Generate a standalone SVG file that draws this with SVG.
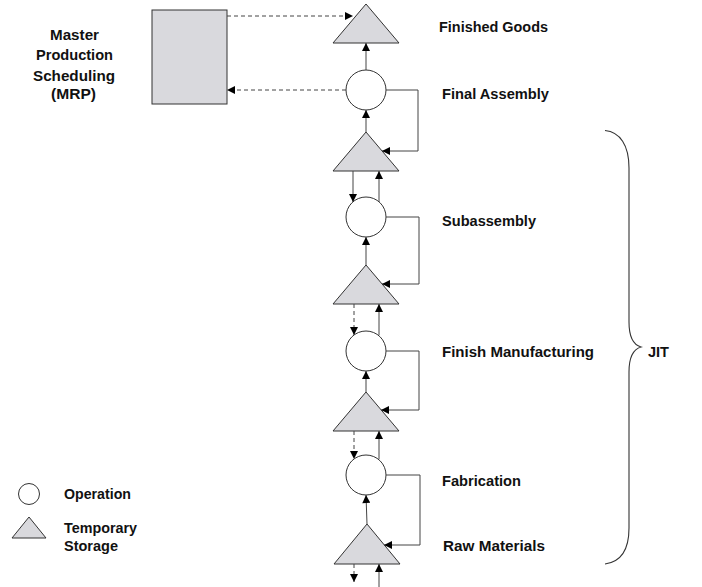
<svg xmlns="http://www.w3.org/2000/svg" width="702" height="587" viewBox="0 0 702 587">
  <style>
    .lbl { font-family: "Liberation Sans Narrow", "Liberation Sans", Arial, sans-serif; font-weight: bold; font-size: 15.5px; fill: #111; }
    .store { fill: #d9d9dd; stroke: #333; stroke-width: 1; }
    .op { fill: #fff; stroke: #333; stroke-width: 1; }
    .box { fill: #d9d9dd; stroke: #333; stroke-width: 1; }
    .flow { fill: none; stroke: #444; stroke-width: 1; }
    .dash { fill: none; stroke: #444; stroke-width: 1; stroke-dasharray: 4 3; }
    .brace { fill: none; stroke: #333; stroke-width: 1.1; }
  </style>
  <defs>
    <marker id="arrow" viewBox="0 0 10 10" refX="10" refY="5" markerWidth="9" markerHeight="8" markerUnits="userSpaceOnUse" orient="auto">
      <path d="M0,0 L10,5 L0,10 z" fill="#000"/>
    </marker>
  </defs>

  <rect width="702" height="587" fill="#fff"/>

  <!-- planning box -->
  <g id="mrp">
    <rect class="box" x="152" y="10" width="75" height="94"/>
    <text class="lbl" x="50" y="39.5" textLength="49" lengthAdjust="spacingAndGlyphs">Master</text>
    <text class="lbl" x="36" y="60" textLength="77" lengthAdjust="spacingAndGlyphs">Production</text>
    <text class="lbl" x="33" y="80.5" textLength="82" lengthAdjust="spacingAndGlyphs">Scheduling</text>
    <text class="lbl" x="51" y="99" textLength="45" lengthAdjust="spacingAndGlyphs">(MRP)</text>
  </g>

  <!-- storage and operation stages -->
  <g id="finished-goods">
    <polygon class="store" points="366,4 399,43 333,43"/>
    <text class="lbl" x="439" y="31.5" textLength="109" lengthAdjust="spacingAndGlyphs">Finished Goods</text>
  </g>
  <g id="final-assembly">
    <circle class="op" cx="366" cy="90" r="20"/>
    <text class="lbl" x="442" y="99" textLength="107" lengthAdjust="spacingAndGlyphs">Final Assembly</text>
  </g>
  <g id="storage-2">
    <polygon class="store" points="366,132 399,171 333,171"/>
  </g>
  <g id="subassembly">
    <circle class="op" cx="366" cy="217" r="20"/>
    <text class="lbl" x="442" y="226" textLength="94" lengthAdjust="spacingAndGlyphs">Subassembly</text>
  </g>
  <g id="storage-3">
    <polygon class="store" points="366,265 399,304 333,304"/>
  </g>
  <g id="finish-manufacturing">
    <circle class="op" cx="366" cy="351" r="20"/>
    <text class="lbl" x="442" y="356.5" textLength="152" lengthAdjust="spacingAndGlyphs">Finish Manufacturing</text>
  </g>
  <g id="storage-4">
    <polygon class="store" points="366,392 399,431 333,431"/>
  </g>
  <g id="fabrication">
    <circle class="op" cx="366" cy="475" r="20"/>
    <text class="lbl" x="442" y="486" textLength="79" lengthAdjust="spacingAndGlyphs">Fabrication</text>
  </g>
  <g id="raw-materials">
    <polygon class="store" points="367,524 400,564 334,564"/>
    <text class="lbl" x="443" y="550.5" textLength="102" lengthAdjust="spacingAndGlyphs">Raw Materials</text>
  </g>

  <!-- JIT bracket -->
  <g id="jit">
    <path class="brace" d="M605,130.5 C620,132 629,145 629,168 L629,322 C629,338 634,345 641,347 C634,349 629,356 629,372 L629,528 C629,551 620,562 605,564"/>
    <text class="lbl" x="648" y="357" textLength="21" lengthAdjust="spacingAndGlyphs">JIT</text>
  </g>

  <!-- legend -->
  <g id="legend">
    <circle class="op" cx="29" cy="494" r="10.5"/>
    <text class="lbl" x="64" y="498.5" textLength="67" lengthAdjust="spacingAndGlyphs">Operation</text>
    <polygon class="store" points="29,517 46,538 12,538"/>
    <text class="lbl" x="64" y="533" textLength="73" lengthAdjust="spacingAndGlyphs">Temporary</text>
    <text class="lbl" x="64" y="551" textLength="54" lengthAdjust="spacingAndGlyphs">Storage</text>
  </g>

  <!-- connectors -->
  <g id="connectors">
    <!-- schedule links -->
    <path class="dash" d="M227,16 L353,16" marker-end="url(#arrow)"/>
    <path class="dash" d="M346,90 L227,90" marker-end="url(#arrow)"/>

    <!-- final assembly -->
    <path class="flow" d="M366,70 L366,43" marker-end="url(#arrow)"/>
    <path class="flow" d="M366,132 L366,110" marker-end="url(#arrow)"/>
    <path class="flow" d="M386,90 L418,90 L418,151 L382,151" marker-end="url(#arrow)"/>

    <!-- subassembly -->
    <path class="flow" d="M353,171 L353,202" marker-end="url(#arrow)"/>
    <path class="flow" d="M379,202 L379,171" marker-end="url(#arrow)"/>
    <path class="flow" d="M366,265 L366,237" marker-end="url(#arrow)"/>
    <path class="flow" d="M386,217 L419,217 L419,284 L382,284" marker-end="url(#arrow)"/>

    <!-- finish manufacturing -->
    <path class="dash" d="M354,304 L354,335" marker-end="url(#arrow)"/>
    <path class="flow" d="M379,335 L379,304" marker-end="url(#arrow)"/>
    <path class="flow" d="M366,392 L366,371" marker-end="url(#arrow)"/>
    <path class="flow" d="M386,351 L419,351 L419,410 L381,410" marker-end="url(#arrow)"/>

    <!-- fabrication -->
    <path class="dash" d="M354,431 L354,459" marker-end="url(#arrow)"/>
    <path class="flow" d="M379,459 L379,431" marker-end="url(#arrow)"/>
    <path class="flow" d="M367,524 L366,495" marker-end="url(#arrow)"/>
    <path class="flow" d="M386,475 L420,475 L420,545 L384,545" marker-end="url(#arrow)"/>

    <!-- raw materials -->
    <path class="dash" d="M354,564 L354,582" marker-end="url(#arrow)"/>
    <path class="flow" d="M379,587 L379,564" marker-end="url(#arrow)"/>
  </g>
</svg>
